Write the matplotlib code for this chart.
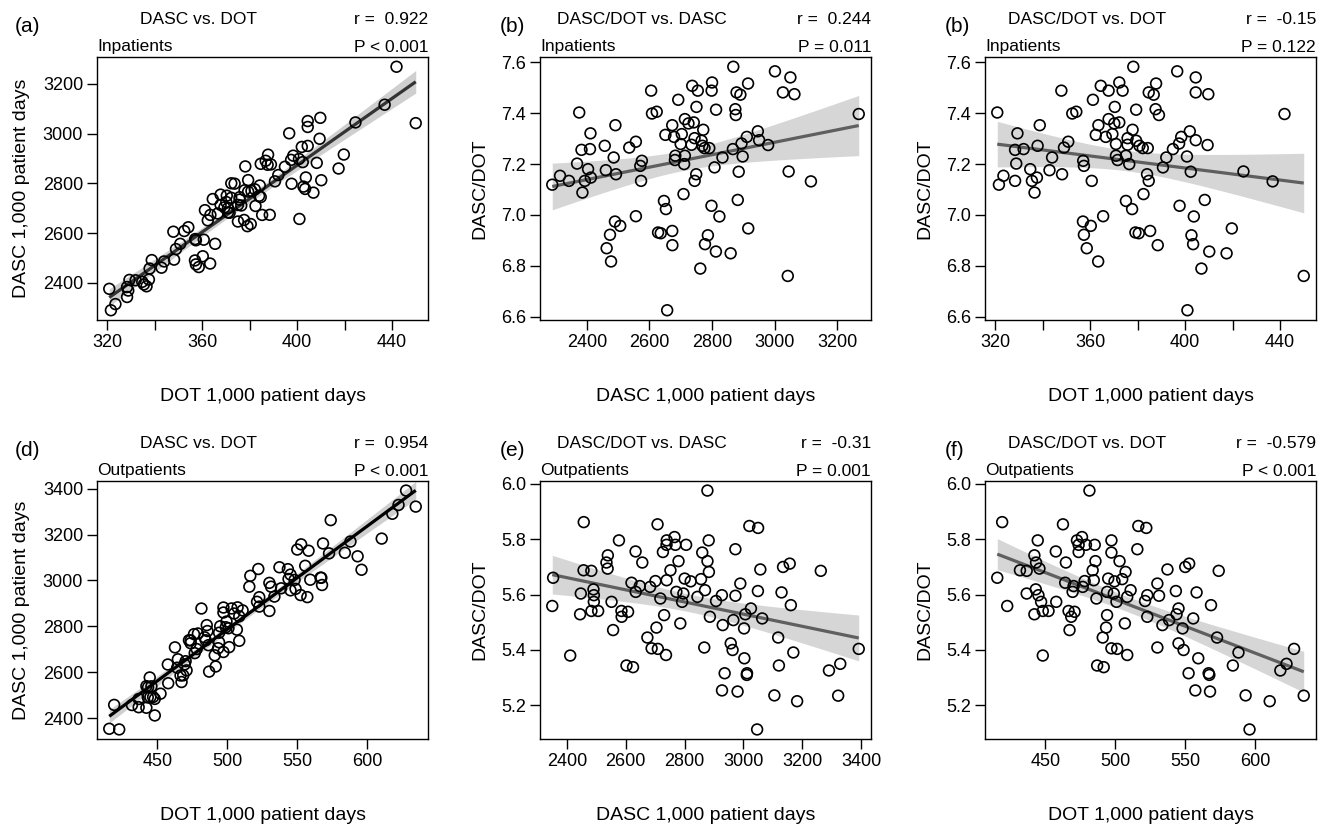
import numpy as np
import matplotlib
matplotlib.use("Agg")
import matplotlib.pyplot as plt
from matplotlib.ticker import MultipleLocator, FormatStrFormatter

plt.rcParams['font.family'] = ['Liberation Sans', 'DejaVu Sans']

# ---------------- data ----------------
# Inpatients: DOT per 1,000 patient days and DASC/DOT ratio
dot_in = [320.9, 321.6, 323.5, 328.4, 329.4, 328.4, 332.0, 328.9, 334.8, 335.5,
          337.6, 336.6, 338.8, 337.9, 344.0, 342.9, 348.2, 347.9, 349.0, 350.8,
          352.5, 354.2, 357.1, 357.4, 360.7, 361.2, 363.5, 362.4, 366.6, 364.5,
          367.8, 372.3, 373.7, 370.4, 367.8, 370.2, 372.3, 369.4, 370.9, 370.9,
          371.6, 376.5, 375.1, 377.7, 357.0, 360.3, 365.5, 357.4, 358.6, 363.4,
          378.2, 396.7, 404.5, 404.5, 409.8, 387.8, 384.7, 386.8, 379.4, 387.6,
          389.0, 441.9, 377.9, 375.8, 379.4, 375.8, 380.8, 382.2, 384.3, 375.1,
          398.4, 402.0, 404.5, 397.5, 394.9, 392.1, 409.5, 400.8, 390.7, 402.4,
          424.6, 436.9, 384.0, 384.7, 382.5, 397.7, 403.7, 408.3, 419.7, 379.1,
          380.5, 385.3, 388.5, 402.7, 403.4, 410.2, 417.5, 406.9, 401.0, 450.0]
ratio_in = [7.403, 7.119, 7.154, 7.134, 7.321, 7.256, 7.259, 7.202, 7.180, 7.134,
            7.147, 7.088, 7.353, 7.272, 7.226, 7.176, 7.160, 7.489, 7.265, 7.288,
            7.399, 7.406, 7.213, 7.193, 7.134, 7.453, 7.353, 7.315, 7.307, 7.508,
            7.489, 7.521, 7.489, 7.425, 7.377, 7.360, 7.364, 7.318, 7.279, 7.233,
            7.216, 7.200, 7.055, 7.023, 6.974, 6.957, 6.995, 6.922, 6.869, 6.817,
            7.583, 7.565, 7.541, 7.482, 7.475, 7.517, 7.482, 7.473, 7.414, 7.416,
            7.393, 7.397, 7.335, 7.302, 7.292, 7.276, 7.272, 7.263, 7.263, 7.233,
            7.307, 7.329, 7.294, 7.281, 7.259, 7.226, 7.275, 7.230, 7.187, 7.170,
            7.171, 7.132, 7.160, 7.134, 7.082, 7.036, 6.994, 7.059, 6.947, 6.931,
            6.928, 6.937, 6.881, 6.920, 6.885, 6.856, 6.849, 6.789, 6.625, 6.760]

# Outpatients
dot_out = [415.7, 419.2, 422.8, 431.9, 436.7, 442.2, 444.6, 443.4, 445.8, 436.7,
           443.2, 445.1, 447.0, 442.2, 448.2, 452.3, 448.2, 457.8, 457.5, 462.6,
           464.7, 466.6, 468.5, 470.9, 467.3, 464.2, 470.2, 469.5, 472.6, 476.2,
           473.8, 479.0, 473.8, 478.1, 476.7, 484.6, 483.8, 485.8, 485.3, 481.5,
           486.5, 494.1, 493.4, 491.0, 497.2, 497.2, 503.0, 497.2, 501.3, 487.0,
           491.7, 494.9, 499.4, 504.9, 494.1, 498.9, 500.8, 506.8, 508.5, 516.4,
           522.1, 515.7, 537.2, 549.9, 552.7, 573.8, 507.3, 510.9, 508.5, 522.8,
           521.2, 530.0, 531.2, 543.2, 558.0, 568.3, 522.8, 533.6, 538.4, 543.7,
           545.1, 548.0, 555.6, 530.0, 545.1, 548.7, 559.2, 572.6, 587.9, 583.9,
           552.3, 566.6, 567.1, 557.1, 567.6, 593.0, 610.2, 595.8, 617.8, 622.2,
           627.6, 634.5]
ratio_out = [5.661, 5.862, 5.559, 5.688, 5.686, 5.742, 5.796, 5.716, 5.694, 5.604,
             5.619, 5.598, 5.574, 5.529, 5.541, 5.541, 5.380, 5.574, 5.756, 5.854,
             5.716, 5.541, 5.520, 5.538, 5.472, 5.643, 5.631, 5.610, 5.796, 5.808,
             5.780, 5.780, 5.754, 5.649, 5.628, 5.652, 5.688, 5.721, 5.780, 5.976,
             5.586, 5.526, 5.481, 5.445, 5.796, 5.752, 5.721, 5.406, 5.404, 5.344,
             5.338, 5.658, 5.648, 5.656, 5.610, 5.604, 5.574, 5.496, 5.382, 5.848,
             5.841, 5.764, 5.691, 5.700, 5.712, 5.686, 5.682, 5.616, 5.592, 5.598,
             5.577, 5.640, 5.596, 5.613, 5.608, 5.562, 5.520, 5.490, 5.508, 5.529,
             5.550, 5.478, 5.514, 5.409, 5.424, 5.400, 5.370, 5.445, 5.391, 5.344,
             5.316, 5.316, 5.310, 5.254, 5.250, 5.236, 5.215, 5.113, 5.326, 5.350,
             5.404, 5.235]

panel_letters = ["(a)", "(b)", "(b)", "(d)", "(e)", "(f)"]
titles = ["DASC vs. DOT", "DASC/DOT vs. DASC", "DASC/DOT vs. DOT"]
groups = ["Inpatients", "Outpatients"]
r_texts = ["r =  0.922", "r =  0.244", "r =  -0.15",
           "r =  0.954", "r =  -0.31", "r =  -0.579"]
p_texts = ["P < 0.001", "P = 0.011", "P = 0.122",
           "P < 0.001", "P = 0.001", "P < 0.001"]
lab_dot = "DOT 1,000 patient days"
lab_dasc = "DASC 1,000 patient days"
lab_ratio = "DASC/DOT"

# ---------------- figure ----------------
W, H = 1331, 839
fig = plt.figure(figsize=(W / 100, H / 100), dpi=100)

cols = [97, 540, 985]
rows = [57, 481]
heights = [263, 258]
BW = 331
letter_dx = [82, 40, 40]


def add_ax(left, top, h):
    return fig.add_axes([left / W, 1 - (top + h) / H, BW / W, h / H])


def pad_lim(v):
    v = np.asarray(v)
    r = v.max() - v.min()
    return v.min() - 0.04 * r, v.max() + 0.04 * r


def draw(ax, x, y, line_color, band_color):
    x = np.asarray(x, float)
    y = np.asarray(y, float)
    b, a = np.polyfit(x, y, 1)
    n = len(x)
    xm = x.mean()
    s = np.sqrt(np.sum((y - (a + b * x)) ** 2) / (n - 2))
    xs = np.linspace(x.min(), x.max(), 200)
    se = s * np.sqrt(1.0 / n + (xs - xm) ** 2 / np.sum((x - xm) ** 2))
    yf = a + b * xs
    ax.fill_between(xs, yf - 1.98 * se, yf + 1.98 * se, color=band_color,
                    lw=0, zorder=1)
    ax.plot(xs, yf, color=line_color, lw=2.3, zorder=2, solid_capstyle='butt')
    ax.scatter(x, y, s=60, facecolors='none', edgecolors='black',
               linewidths=1.2, zorder=3)
    ax.set_xlim(*pad_lim(x))
    ax.set_ylim(*pad_lim(y))


def style(ax, xmaj, xmin, ymaj, yfmt):
    ax.xaxis.set_major_locator(MultipleLocator(xmaj))
    if xmin:
        ax.xaxis.set_minor_locator(MultipleLocator(xmin))
    ax.yaxis.set_major_locator(MultipleLocator(ymaj))
    ax.yaxis.set_major_formatter(FormatStrFormatter(yfmt))
    ax.tick_params(which='both', direction='out', length=7, width=1.0,
                   labelsize=13, pad=3, color='black')
    for sp in ax.spines.values():
        sp.set_linewidth(1.0)


dot_in_a = np.array(dot_in)
ratio_in_a = np.array(ratio_in)
dasc_in_a = dot_in_a * ratio_in_a
dot_out_a = np.array(dot_out)
ratio_out_a = np.array(ratio_out)
dasc_out_a = dot_out_a * ratio_out_a

sets = [
    (dot_in_a, dasc_in_a, lab_dot, lab_dasc, '#333333', '#cfcfcf', 40, 20, 200, '%d'),
    (dasc_in_a, ratio_in_a, lab_dasc, lab_ratio, '#5f5f5f', '#d6d6d6', 200, None, 0.2, '%.1f'),
    (dot_in_a, ratio_in_a, lab_dot, lab_ratio, '#5f5f5f', '#d6d6d6', 40, 20, 0.2, '%.1f'),
    (dot_out_a, dasc_out_a, lab_dot, lab_dasc, '#000000', '#cfcfcf', 50, None, 200, '%d'),
    (dasc_out_a, ratio_out_a, lab_dasc, lab_ratio, '#5f5f5f', '#d6d6d6', 200, None, 0.2, '%.1f'),
    (dot_out_a, ratio_out_a, lab_dot, lab_ratio, '#5f5f5f', '#d6d6d6', 50, None, 0.2, '%.1f'),
]


def ftext(px, py, s, **kw):
    fig.text(px / W, 1 - py / H, s, **kw)


for i, (x, y, xl, yl, lc, bc, xmaj, xmin, ymaj, yfmt) in enumerate(sets):
    r, c = divmod(i, 3)
    left, top = cols[c], rows[r]
    ax = add_ax(left, top, heights[r])
    draw(ax, x, y, lc, bc)
    style(ax, xmaj, xmin, ymaj, yfmt)
    ax.set_xlabel(xl, fontsize=14, labelpad=27)
    ax.set_ylabel(yl, fontsize=14, labelpad=9)
    dy = top - 57
    ftext(left - letter_dx[c], 26 + dy, panel_letters[i], fontsize=15,
          ha='left', va='center')
    ftext(left + 102, 20 + dy, titles[c], fontsize=12.5, ha='center', va='center')
    ftext(left, 47 + dy, groups[r], fontsize=12.5, ha='left', va='center')
    ftext(left + BW, 20 + dy, r_texts[i], fontsize=12.5, ha='right', va='center')
    ftext(left + BW, 47 + dy, p_texts[i], fontsize=12.5, ha='right', va='center')

fig.savefig("out.png", dpi=100)
